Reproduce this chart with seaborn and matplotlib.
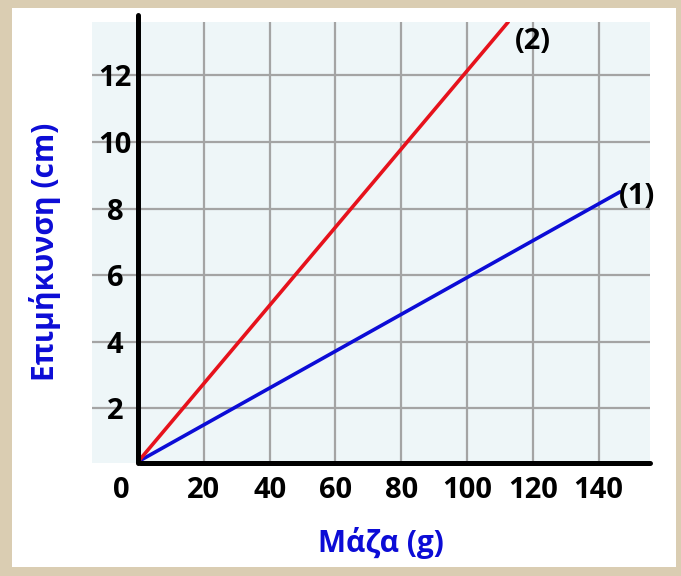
import matplotlib
matplotlib.use("Agg")
import matplotlib.pyplot as plt
from matplotlib.patches import Rectangle
import pandas as pd
import seaborn as sns

# ── data ─────────────────────────────────────────────────────────────────────
spring_labels = ["(1)", "(2)"]
mass_1 = [0, 146.5]          # g
ext_1  = [0.4, 8.5]          # cm
mass_2 = [0, 112.5]
ext_2  = [0.4, 13.6]
x_ticks = [20, 40, 60, 80, 100, 120, 140]
y_ticks = [2, 4, 6, 8, 10, 12]
x_title = "Μάζα (g)"
y_title = "Επιμήκυνση (cm)"

# ── style ─────────────────────────────────────────────────────────────────────
BLUE  = "#0c0cd6"
RED   = "#e6121c"
GRID  = "#a4a4a4"
PANEL = "#eef6f8"
PAPER = "#dacdb2"
W, H  = 681, 576
FS    = 21

sns.set_theme(style="white")
plt.rcParams["font.family"] = ["Open Sans", "DejaVu Sans"]
plt.rcParams["text.color"] = "black"

df = pd.DataFrame({
    "mass": mass_1 + mass_2,
    "ext": ext_1 + ext_2,
    "spring": [spring_labels[0]] * len(mass_1) + [spring_labels[1]] * len(mass_2),
})

fig = plt.figure(figsize=(W / 100, H / 100), dpi=100)
fig.patch.set_facecolor(PAPER)
fig.patches.append(Rectangle((12 / W, 1 - 567 / H), 664 / W, 559 / H,
                             transform=fig.transFigure, facecolor="white",
                             edgecolor="none", zorder=-1))

ax = fig.add_axes([92 / W, 1 - 463 / H, 558 / W, 441 / H])
ax.set_zorder(1)
ax.set_facecolor(PANEL)

sns.lineplot(data=df, x="mass", y="ext", hue="spring",
             palette={spring_labels[0]: BLUE, spring_labels[1]: RED},
             linewidth=2.6, legend=False, ax=ax, zorder=3)

ax.set_xlim(-14, 155.6)
ax.set_ylim(0.36, 13.6)
ax.set_xticks(x_ticks)
ax.set_yticks(y_ticks)
ax.grid(True, color=GRID, linewidth=1.6)
ax.set_axisbelow(True)

for side in ["top", "right"]:
    ax.spines[side].set_visible(False)
ax.spines["left"].set_position(("data", 0))
ax.spines["left"].set_bounds(0.36, 13.8)
ax.spines["bottom"].set_bounds(0.6, 155.6)
for side in ["left", "bottom"]:
    ax.spines[side].set_linewidth(3.6)
    ax.spines[side].set_color("black")
    ax.spines[side].set_capstyle("round")
    ax.spines[side].set_zorder(4)

ax.tick_params(length=0, labelsize=FS, labelcolor="black")
ax.tick_params(axis="x", pad=9)
ax.tick_params(axis="y", pad=16.5)
for lab in ax.get_xticklabels() + ax.get_yticklabels():
    lab.set_fontweight("bold")
for lab in ax.get_yticklabels():
    lab.set_ha("center")
ax.annotate("0", xy=(-5, 0), xycoords=("data", "axes fraction"),
            xytext=(0, -9), textcoords="offset points",
            ha="center", va="top", fontsize=FS, fontweight="bold", color="black")

ax.set_xlabel("")
ax.set_ylabel("")

# curve labels
ax.text(151.7, 8.35, spring_labels[0], ha="center", va="center",
        fontsize=FS, fontweight="bold", color="black", zorder=5)
ax.text(120, 13.0, spring_labels[1], ha="center", va="center",
        fontsize=FS, fontweight="bold", color="black", clip_on=False, zorder=5)

fig.text(381 / W, 1 - 543 / H, x_title, ha="center", va="center",
         color=BLUE, fontsize=21.5, fontweight="bold")
fig.text(45 / W, 1 - 252 / H, y_title, ha="center", va="center", rotation=90,
         color=BLUE, fontsize=21.5, fontweight="bold")

fig.savefig("out.png", dpi=100, facecolor=fig.get_facecolor())
